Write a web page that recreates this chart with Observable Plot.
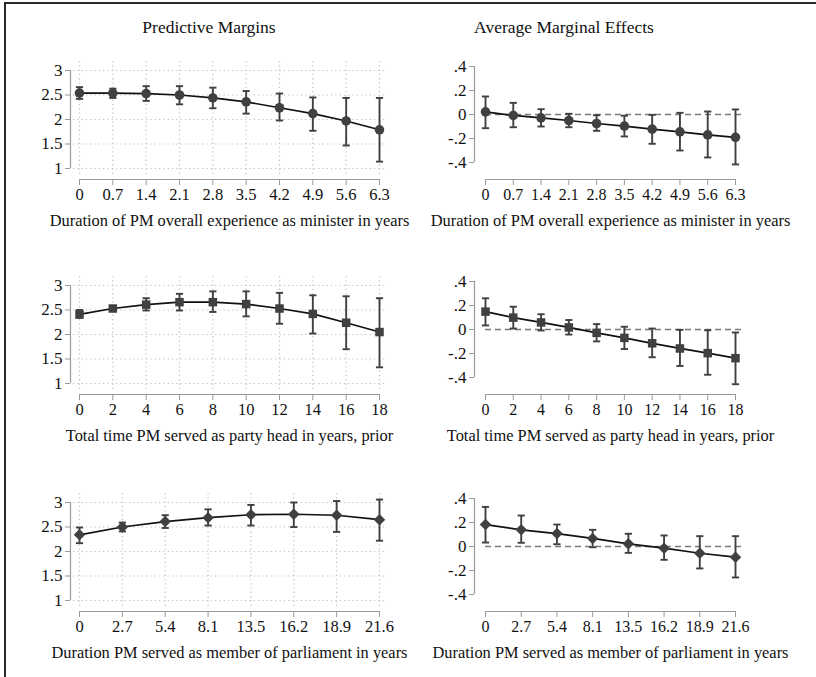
<!DOCTYPE html>
<html>
<head>
<meta charset="utf-8">
<script src="https://cdn.jsdelivr.net/npm/d3@7"></script>
<script src="https://cdn.jsdelivr.net/npm/@observablehq/plot@0.6"></script>
<style>
  html, body { margin: 0; padding: 0; background: #fff; }
  #wrap { position: relative; width: 816px; height: 677px; overflow: hidden; background: #fff; font-family: "Liberation Serif", "Times New Roman", serif; }
  #frame { position: absolute; left: 4px; top: 2px; width: 830px; height: 690px; border-top: 2px solid #2a2a2a; border-left: 2px solid #2a2a2a; }
  .ttl { position: absolute; top: 17px; font-size: 17.5px; color: #111; transform: translateX(-50%); white-space: nowrap; }
  .pnl { position: absolute; }
</style>
</head>
<body>
<div id="wrap">
  <div id="frame"></div>
  <div class="ttl" style="left:209px">Predictive Margins</div>
  <div class="ttl" style="left:564px">Average Marginal Effects</div>
</div>
<script>
// ---------- data ----------
const xlabelMinister = "Duration of PM overall experience as minister in years";
const xlabelParty = "Total time PM served as party head in years, prior";
const xlabelParl = "Duration PM served as member of parliament in years";

const catsMinister = ["0","0.7","1.4","2.1","2.8","3.5","4.2","4.9","5.6","6.3"];
const catsParty = ["0","2","4","6","8","10","12","14","16","18"];
const catsParl = ["0","2.7","5.4","8.1","13.5","16.2","18.9","21.6"];

const pmMinisterEst = [2.54,2.54,2.53,2.50,2.44,2.36,2.24,2.12,1.97,1.79];
const pmMinisterLo  = [2.42,2.44,2.38,2.31,2.23,2.12,1.98,1.77,1.47,1.14];
const pmMinisterHi  = [2.66,2.63,2.68,2.68,2.65,2.58,2.53,2.45,2.44,2.44];

const ameMinisterEst = [0.022,-0.008,-0.028,-0.050,-0.075,-0.097,-0.122,-0.144,-0.170,-0.190];
const ameMinisterLo  = [-0.114,-0.106,-0.100,-0.106,-0.136,-0.183,-0.244,-0.300,-0.358,-0.416];
const ameMinisterHi  = [0.150,0.097,0.044,0.006,-0.006,-0.010,-0.003,0.014,0.025,0.042];

const pmPartyEst = [2.41,2.53,2.61,2.66,2.66,2.62,2.53,2.42,2.24,2.05];
const pmPartyLo  = [2.34,2.49,2.49,2.49,2.46,2.37,2.22,2.02,1.70,1.33];
const pmPartyHi  = [2.50,2.57,2.74,2.83,2.88,2.88,2.85,2.80,2.78,2.74];

const amePartyEst = [0.149,0.099,0.059,0.017,-0.028,-0.070,-0.115,-0.158,-0.197,-0.239];
const amePartyLo  = [0.034,0.008,-0.008,-0.042,-0.099,-0.163,-0.231,-0.304,-0.377,-0.456];
const amePartyHi  = [0.260,0.190,0.127,0.079,0.045,0.023,0.008,-0.003,-0.006,-0.025];

const pmParlEst = [2.34,2.50,2.61,2.69,2.75,2.76,2.74,2.65];
const pmParlLo  = [2.17,2.41,2.48,2.53,2.53,2.50,2.40,2.22];
const pmParlHi  = [2.49,2.59,2.74,2.86,2.95,3.00,3.03,3.06];

const ameParlEst = [0.183,0.139,0.108,0.067,0.022,-0.014,-0.056,-0.089];
const ameParlLo  = [0.033,0.031,0.019,-0.006,-0.053,-0.111,-0.183,-0.258];
const ameParlHi  = [0.330,0.258,0.183,0.139,0.106,0.092,0.086,0.086];

const pmTicks = [1, 1.5, 2, 2.5, 3];
const ameTicks = [-0.4, -0.2, 0, 0.2, 0.4];

// ---------- symbols ----------
const capSymbol = { draw(ctx, size) { const w = Math.sqrt(size / Math.PI); ctx.moveTo(-w, 0); ctx.lineTo(w, 0); } };
const diamondSymbol = { draw(ctx, size) { const r = Math.sqrt(size / Math.PI) * 1.2; ctx.moveTo(0, -r); ctx.lineTo(r, 0); ctx.lineTo(0, r); ctx.lineTo(-r, 0); ctx.closePath(); } };

const rowOffsets = [0, 215, 432];
const wrap = document.getElementById("wrap");

function fmtAme(d) { if (Math.abs(d) < 1e-9) return "0"; return (d < 0 ? "-" : "") + String(Math.abs(d)).replace(/^0/, ""); }

function makePanel({cats, est, lo, hi, symbol, kind, row, col, xlabel}) {
  const n = cats.length;
  const o = rowOffsets[row];
  const L = col === 0 ? 0 : 408, T = 40 + o, Wd = col === 0 ? 412 : 408, Ht = 205;
  const axisPx = col === 0 ? 70 : 474, x0 = col === 0 ? 79 : 485, x1 = col === 0 ? 379 : 735, right = col === 0 ? 387 : 743;
  const frameTop = 60 + o, axisLine = 179 + o;
  const ticks = kind === "pm" ? pmTicks : ameTicks;
  const tMin = ticks[0], tMax = ticks[ticks.length - 1];
  const tTopPx = (kind === "pm" ? 70 : 66) + o, tBotPx = (kind === "pm" ? 168 : 162) + o;
  const step = (x1 - x0) / (n - 1);
  const xDom = [-(x0 - axisPx) / step, n - 1 + (right - x1) / step];
  const per = (tBotPx - tTopPx) / (tMax - tMin);
  const yDom = [tMin - (axisLine - tBotPx) / per, tMax + (tTopPx - frameTop) / per];
  const data = d3.range(n).map(i => ({i, est: est[i], lo: lo[i], hi: hi[i]}));
  const axisColor = "#9a9a9a";
  const ink = "#404040";
  const yFs = 17, xFs = col === 0 ? 16.5 : 16;

  const marks = [];
  if (kind === "pm") {
    marks.push(Plot.ruleY(ticks, {y: d => d, x1: xDom[0] + 3 / step, x2: xDom[1], stroke: "#c4c4c4", strokeWidth: 1.2, strokeDasharray: "1.3,3"}));
    marks.push(Plot.ruleX(d3.range(n), {x: d => d, y1: tMin - (174 + o - tBotPx) / per, y2: yDom[1], stroke: "#c4c4c4", strokeWidth: 1.2, strokeDasharray: "1.3,3"}));
  } else {
    marks.push(Plot.ruleY([0], {y: d => d, x1: 0, x2: xDom[1], stroke: "#7a7a7a", strokeWidth: 1.3, strokeDasharray: "6,4"}));
  }
  marks.push(
    Plot.ruleX([xDom[0]], {x: d => d, y1: tMin, y2: tMax, stroke: axisColor, strokeWidth: 1.2}),
    Plot.ruleY([yDom[0]], {y: d => d, x1: 0, x2: n - 1, stroke: axisColor, strokeWidth: 1.2}),
    Plot.axisY({ticks, tickSize: 5, tickPadding: 3, tickFormat: kind === "pm" ? (d => String(d)) : fmtAme, stroke: axisColor, fill: "#111", fontSize: yFs, label: null}),
    Plot.axisX({ticks: d3.range(n), tickSize: 6, tickPadding: 3, tickFormat: i => cats[i], stroke: axisColor, fill: "#111", fontSize: xFs, label: null}),
    Plot.ruleX(data, {x: "i", y1: "lo", y2: "hi", stroke: ink, strokeWidth: 1.9}),
    Plot.dot(data, {x: "i", y: "lo", symbol: capSymbol, r: 3.6, fill: "none", stroke: ink, strokeWidth: 1.9}),
    Plot.dot(data, {x: "i", y: "hi", symbol: capSymbol, r: 3.6, fill: "none", stroke: ink, strokeWidth: 1.9}),
    Plot.line(data, {x: "i", y: "est", stroke: "#111", strokeWidth: 1.7}),
    Plot.dot(data, {x: "i", y: "est", symbol, r: 4.8, fill: ink, stroke: "none"}),
    Plot.text([xlabel], {x: (n - 1) / 2, y: yDom[0], dy: 41, fontSize: 16.4, fill: "#111"})
  );

  const svg = Plot.plot({
    width: Wd, height: Ht,
    marginLeft: axisPx - L, marginRight: L + Wd - right,
    marginTop: frameTop - T, marginBottom: T + Ht - axisLine,
    x: {domain: xDom},
    y: {domain: yDom},
    style: {fontFamily: "Liberation Serif, Times New Roman, serif", fontSize: "16px", background: "transparent", color: "#111", overflow: "visible"},
    marks
  });
  const div = document.createElement("div");
  div.className = "pnl";
  div.style.left = L + "px";
  div.style.top = T + "px";
  div.appendChild(svg);
  wrap.appendChild(div);
}

makePanel({cats: catsMinister, est: pmMinisterEst, lo: pmMinisterLo, hi: pmMinisterHi, symbol: "circle", kind: "pm", row: 0, col: 0, xlabel: xlabelMinister});
makePanel({cats: catsMinister, est: ameMinisterEst, lo: ameMinisterLo, hi: ameMinisterHi, symbol: "circle", kind: "ame", row: 0, col: 1, xlabel: xlabelMinister});
makePanel({cats: catsParty, est: pmPartyEst, lo: pmPartyLo, hi: pmPartyHi, symbol: "square", kind: "pm", row: 1, col: 0, xlabel: xlabelParty});
makePanel({cats: catsParty, est: amePartyEst, lo: amePartyLo, hi: amePartyHi, symbol: "square", kind: "ame", row: 1, col: 1, xlabel: xlabelParty});
makePanel({cats: catsParl, est: pmParlEst, lo: pmParlLo, hi: pmParlHi, symbol: diamondSymbol, kind: "pm", row: 2, col: 0, xlabel: xlabelParl});
makePanel({cats: catsParl, est: ameParlEst, lo: ameParlLo, hi: ameParlHi, symbol: diamondSymbol, kind: "ame", row: 2, col: 1, xlabel: xlabelParl});
</script>
</body>
</html>
